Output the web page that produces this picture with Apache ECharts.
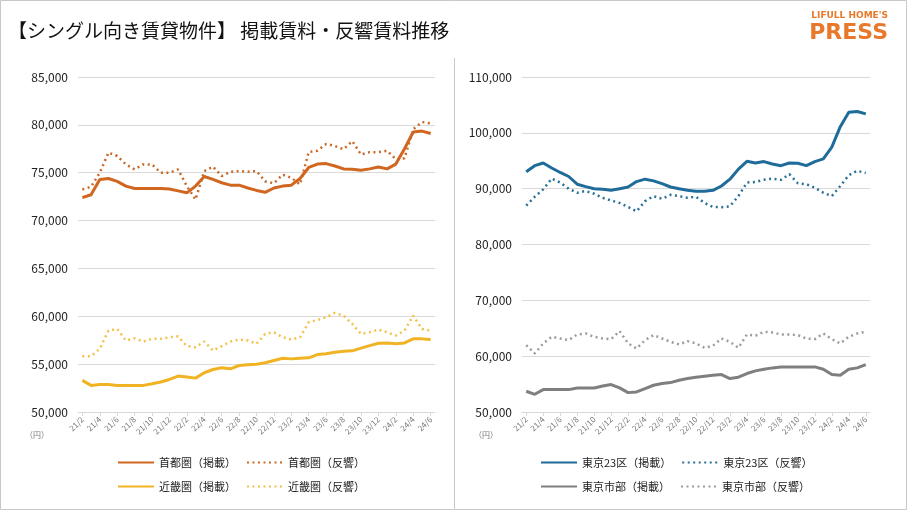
<!DOCTYPE html>
<html>
<head>
<meta charset="utf-8">
<script src="https://cdn.jsdelivr.net/npm/echarts@6/dist/echarts.min.js"></script>
<style>
  html, body { margin: 0; padding: 0; background: #fff; }
  #chart { width: 907px; height: 510px; }
</style>
</head>
<body>
<div id="chart"></div>
<script>
var months = ['21/2','21/3','21/4','21/5','21/6','21/7','21/8','21/9','21/10','21/11','21/12',
  '22/1','22/2','22/3','22/4','22/5','22/6','22/7','22/8','22/9','22/10','22/11','22/12',
  '23/1','23/2','23/3','23/4','23/5','23/6','23/7','23/8','23/9','23/10','23/11','23/12',
  '24/1','24/2','24/3','24/4','24/5','24/6'];

// 首都圏・近畿圏
var shutoKeisai = [72400,72700,74300,74400,74100,73600,73350,73350,73350,73350,73300,73100,72900,73600,74600,74300,73950,73700,73700,73400,73150,72950,73400,73600,73700,74400,75550,75900,75950,75700,75400,75350,75250,75400,75600,75400,75900,77500,79250,79350,79100];
var shutoHankyo = [73250,73530,75000,77100,76750,75870,75350,75870,75870,75000,75000,75350,73600,72200,75170,75630,74650,75100,75170,75100,75170,74100,73900,74800,74470,73780,77170,77300,78000,77800,77450,78300,76900,77150,77150,77300,76400,76500,79550,80300,80150];
var kinkiKeisai = [53300,52780,52880,52880,52780,52780,52780,52780,52950,53130,53400,53750,53650,53540,54100,54440,54620,54510,54860,54930,55000,55140,55380,55620,55550,55620,55660,56000,56080,56250,56350,56390,56670,56940,57190,57220,57120,57220,57640,57640,57570];
var kinkiHankyo = [55830,55830,56600,58500,58680,57470,57700,57360,57640,57640,57810,57900,56880,56770,57360,56420,56880,57360,57570,57470,57120,58160,58330,57810,57570,57810,59380,59620,59900,60350,60070,59200,58160,58330,58610,58330,57990,58500,60070,58680,58500];

// 東京23区・東京市部
var ku23Keisai = [93030,94120,94600,93700,92900,92180,90800,90360,90000,89880,89700,90000,90300,91270,91700,91400,90900,90300,90000,89700,89520,89520,89700,90480,91700,93500,94900,94600,94850,94420,94120,94600,94550,94120,94850,95330,97450,101100,103700,103820,103400];
var ku23Hankyo = [86970,88550,89880,91800,91100,90000,89270,89580,89100,88360,87880,87450,86730,85940,87760,88670,88180,88900,88670,88360,88550,87450,86730,86670,86850,88670,91100,91200,91580,91800,91580,92600,90970,90800,90180,89270,88670,90480,92420,93200,92800];
var shibuKeisai = [53710,53170,54010,54010,54010,54010,54310,54310,54310,54670,54910,54310,53470,53590,54190,54790,55090,55270,55690,55990,56230,56410,56590,56710,55990,56230,56890,57370,57660,57900,58080,58080,58080,58080,58080,57660,56710,56590,57660,57900,58500];
var shibuHankyo = [61980,60480,62280,63470,63170,62870,63890,64070,63470,63170,63050,64490,62280,61380,62870,63770,63170,62570,62100,62690,62280,61500,61860,63170,62570,61500,63890,63650,64370,64250,63890,63890,63770,63170,63050,64070,63050,62280,63470,64070,64370];

var FONT = '"Noto Sans CJK JP", "Noto Sans", sans-serif';

function fmt(v) {
    return v.toLocaleString('en-US');
}

function xAxisFor(gridIndex) {
    return {
        type: 'category',
        gridIndex: gridIndex,
        data: months,
        boundaryGap: true,
        axisLine: { lineStyle: { color: '#d9d9d9' } },
        axisTick: { show: true, interval: 1, alignWithLabel: true, length: 4, lineStyle: { color: '#d9d9d9' } },
        axisLabel: { interval: 1, rotate: 45, fontSize: 8, color: '#777', fontFamily: FONT, margin: 6 }
    };
}

function yAxisFor(gridIndex, min, max, interval) {
    return {
        type: 'value',
        gridIndex: gridIndex,
        min: min,
        max: max,
        interval: interval,
        axisLine: { show: false },
        axisTick: { show: false },
        splitLine: { lineStyle: { color: '#d9d9d9' } },
        axisLabel: { formatter: fmt, fontSize: 12, color: '#222', fontFamily: FONT, margin: 10 }
    };
}

function solid(name, data, color, idx) {
    return {
        name: name, type: 'line', data: data,
        xAxisIndex: idx, yAxisIndex: idx,
        symbol: 'none', smooth: false,
        lineStyle: { color: color, width: 3 },
        itemStyle: { color: color }
    };
}

function dotted(name, data, color, idx) {
    return {
        name: name, type: 'line', data: data,
        xAxisIndex: idx, yAxisIndex: idx,
        symbol: 'none', smooth: false,
        lineStyle: { color: color, width: 2.5, type: [2, 3.5] },
        itemStyle: { color: color }
    };
}

function legendRow(items, left, top) {
    return {
        data: items,
        left: left,
        top: top,
        orient: 'horizontal',
        itemWidth: 36,
        itemHeight: 10,
        itemGap: 10,
        selectedMode: false,
        itemStyle: { opacity: 0 },
        textStyle: { fontSize: 11, color: '#222', fontFamily: FONT }
    };
}

var myChart = echarts.init(document.getElementById('chart'));

var option = {
    animation: false,
    backgroundColor: '#fff',
    grid: [
        { left: 78, top: 77, width: 357, height: 335 },
        { left: 522, top: 77, width: 348, height: 335 }
    ],
    xAxis: [xAxisFor(0), xAxisFor(1)],
    yAxis: [yAxisFor(0, 50000, 85000, 5000), yAxisFor(1, 50000, 110000, 10000)],
    legend: [
        legendRow(['首都圏（掲載）', '首都圏（反響）'], 112, 452),
        legendRow(['近畿圏（掲載）', '近畿圏（反響）'], 112, 476),
        legendRow(['東京23区（掲載）', '東京23区（反響）'], 535, 452),
        legendRow(['東京市部（掲載）', '東京市部（反響）'], 535, 476)
    ],
    series: [
        solid('首都圏（掲載）', shutoKeisai, '#D0661F', 0),
        dotted('首都圏（反響）', shutoHankyo, '#C8692A', 0),
        solid('近畿圏（掲載）', kinkiKeisai, '#F0B323', 0),
        dotted('近畿圏（反響）', kinkiHankyo, '#F2C24C', 0),
        solid('東京23区（掲載）', ku23Keisai, '#1F6B9A', 1),
        dotted('東京23区（反響）', ku23Hankyo, '#2A6F96', 1),
        solid('東京市部（掲載）', shibuKeisai, '#7F7F7F', 1),
        dotted('東京市部（反響）', shibuHankyo, '#9C9C9C', 1)
    ],
    graphic: [
        { type: 'rect', shape: { x: 0.5, y: 0.5, width: 906, height: 509 }, style: { fill: 'none', stroke: '#c8c8c8', lineWidth: 1 }, silent: true },
        { type: 'line', shape: { x1: 454.5, y1: 58, x2: 454.5, y2: 510 }, style: { stroke: '#c8c8c8', lineWidth: 1 }, silent: true },
        { type: 'text', left: 8, top: 21, style: { text: '【シングル向き賃貸物件】 掲載賃料・反響賃料推移', fontSize: 19, fontFamily: FONT, fill: '#111' } },
        { type: 'text', right: 19, top: 11, style: { text: "LIFULL HOME'S", fontSize: 9, fontWeight: 'bold', fontFamily: '"DejaVu Sans", sans-serif', fill: '#E8792A' } },
        { type: 'text', right: 19, top: 22, style: { text: 'PRESS', fontSize: 22, fontWeight: 'bold', fontFamily: '"DejaVu Sans", sans-serif', fill: '#E8792A' } },
        { type: 'text', left: 25, top: 431, style: { text: '（円）', fontSize: 8, fontFamily: FONT, fill: '#777' } },
        { type: 'text', left: 474, top: 431, style: { text: '（円）', fontSize: 8, fontFamily: FONT, fill: '#777' } }
    ]
};

myChart.setOption(option);
window.addEventListener('resize', function () {
    myChart.resize();
});
</script>
</body>
</html>
